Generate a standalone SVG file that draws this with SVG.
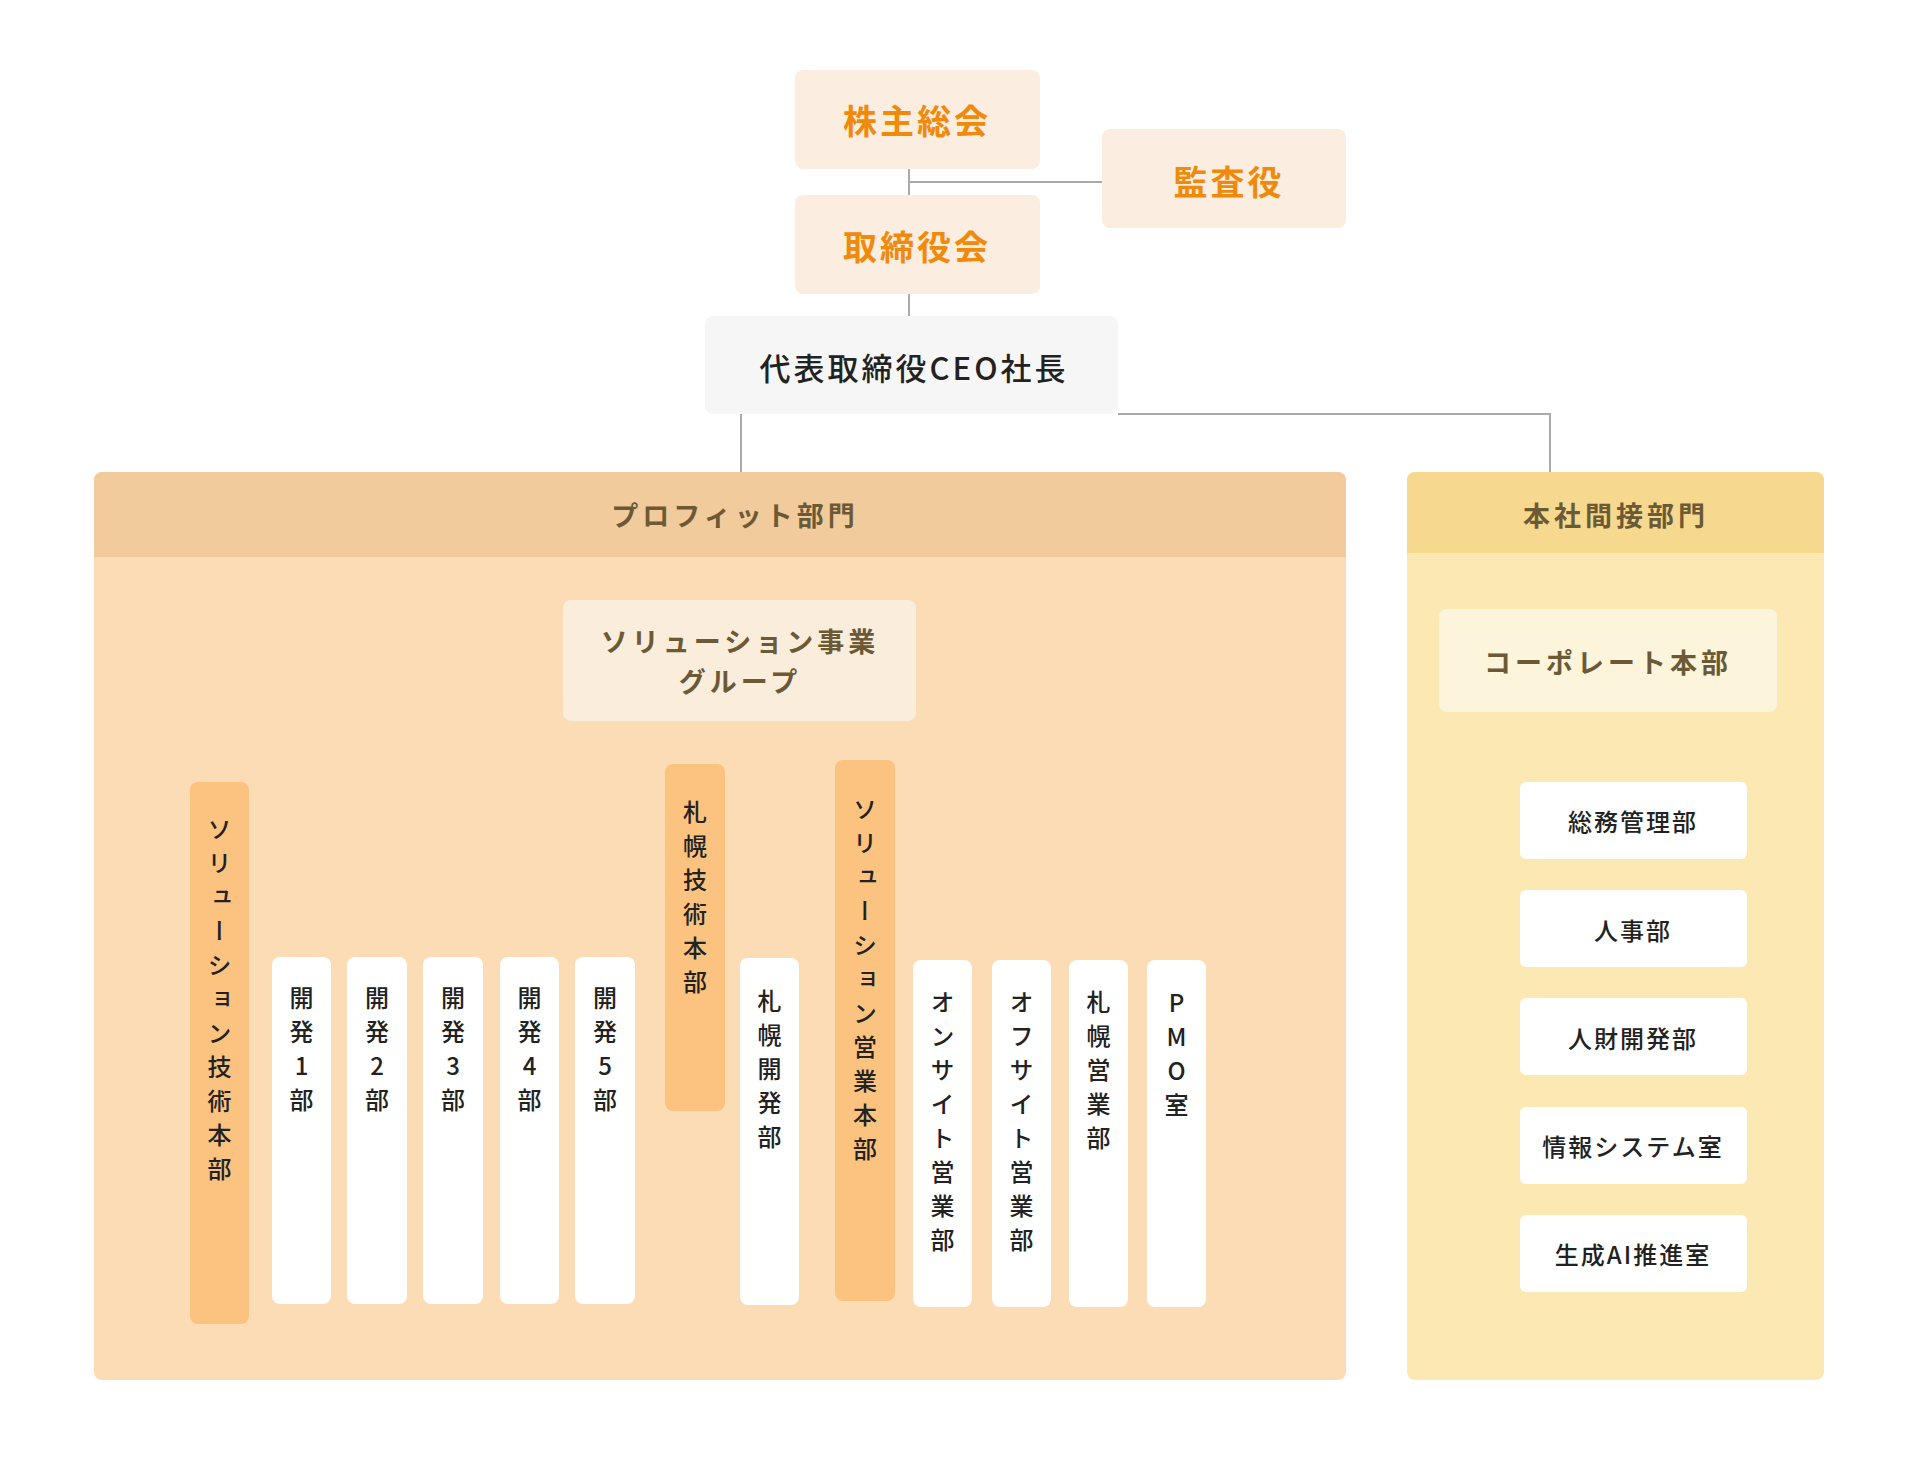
<svg xmlns="http://www.w3.org/2000/svg" width="1920" height="1484" viewBox="0 0 1920 1484">
<style>
text{font-family:"Noto Sans CJK JP","Noto Sans",sans-serif}
.top{fill:#fbeee0}
.ot{fill:#f08a0c;font-size:34px;font-weight:700;text-anchor:middle;dominant-baseline:central;letter-spacing:3px}
.hd{fill:#6b5a35;font-size:27px;font-weight:700;text-anchor:middle;dominant-baseline:central;letter-spacing:4px}
.lk{stroke:#aaa;stroke-width:2;fill:none}
.li{stroke:#85766a;stroke-width:2;fill:none}
.orb{fill:#fcc27f}
.wb{fill:#fff}
.vt{font-size:24px;fill:#222;writing-mode:vertical-rl;text-orientation:upright;letter-spacing:10px;font-weight:500}
.ct{font-size:24px;fill:#222;text-anchor:middle;dominant-baseline:central;font-weight:500;letter-spacing:2px}
</style>
<rect width="1920" height="1484" fill="#fff"/>
<g id="connectors">
<path class="lk" d="M909 169V195M909 182H1102M909 294V316M741 414V472M1118 414H1550V472"/>
<path class="li" d="M695 721V742M215 766V742H861V760M695 742V764"/>
<path class="li" d="M249 890H601M298 890V957M373 890V957M447 890V957M524 890V957M601 890V957"/>
<path class="li" d="M725 890H773V958"/>
<path class="li" d="M895 890H1177V960M943 890V960M1020 890V960M1098 890V960"/>
<path class="li" d="M1472 711V1253M1472 820H1520M1472 929H1520M1472 1037H1520M1472 1145H1520M1472 1253H1520"/>
</g>
<g id="n-kabunushi"><rect class="top" x="795" y="70" width="245" height="99" rx="8"/><text class="ot" x="917" y="119">株主総会</text></g>
<g id="n-kansayaku"><rect class="top" x="1102" y="129" width="244" height="99" rx="8"/><text class="ot" x="1229" y="180">監査役</text></g>
<g id="n-torishimariyakukai"><rect class="top" x="795" y="195" width="245" height="99" rx="8"/><text class="ot" x="917" y="245">取締役会</text></g>
<g id="n-ceo"><rect fill="#f6f6f6" x="705" y="316" width="413" height="98" rx="8"/><text x="914" y="366" font-size="31" fill="#222" text-anchor="middle" dominant-baseline="central" letter-spacing="3" font-weight="500" style="font-family:'Noto Sans CJK JP',sans-serif">代表取締役CEO社長</text></g>
<g id="profit">
<rect x="94" y="472" width="1252" height="908" rx="8" fill="#fbdcb5"/>
<path d="M94 557V480a8 8 0 0 1 8-8H1338a8 8 0 0 1 8 8V557Z" fill="#f2cb9c"/>
<text class="hd" x="735" y="514">プロフィット部門</text>
</g>
<g id="honsha">
<rect x="1407" y="472" width="417" height="908" rx="8" fill="#fbe8b3"/>
<path d="M1407 553V480a8 8 0 0 1 8-8H1816a8 8 0 0 1 8 8V553Z" fill="#f6d88f"/>
<text class="hd" x="1616" y="514">本社間接部門</text>
</g>
<g id="n-solgroup"><rect x="563" y="600" width="353" height="121" rx="8" fill="#fbeddc"/><text class="hd" x="740" y="640">ソリューション事業</text><text class="hd" x="740" y="680">グループ</text></g>
<g id="n-soltech"><rect class="orb" x="190" y="782" width="59" height="542" rx="8"/><text class="vt" x="219.5" y="817">ソリューション技術本部</text></g>
<g id="n-dev1"><rect class="wb" x="272" y="957" width="59" height="347" rx="8"/><text class="vt" x="301.5" y="986">開発1部</text></g>
<g id="n-dev2"><rect class="wb" x="347" y="957" width="60" height="347" rx="8"/><text class="vt" x="377" y="986">開発2部</text></g>
<g id="n-dev3"><rect class="wb" x="423" y="957" width="60" height="347" rx="8"/><text class="vt" x="453" y="986">開発3部</text></g>
<g id="n-dev4"><rect class="wb" x="500" y="957" width="59" height="347" rx="8"/><text class="vt" x="529.5" y="986">開発4部</text></g>
<g id="n-dev5"><rect class="wb" x="575" y="957" width="60" height="347" rx="8"/><text class="vt" x="605" y="986">開発5部</text></g>
<g id="n-sapporotech"><rect class="orb" x="665" y="764" width="60" height="347" rx="8"/><text class="vt" x="695" y="800">札幌技術本部</text></g>
<g id="n-sapporodev"><rect class="wb" x="740" y="958" width="59" height="347" rx="8"/><text class="vt" x="769.5" y="989">札幌開発部</text></g>
<g id="n-solsales"><rect class="orb" x="835" y="760" width="60" height="541" rx="8"/><text class="vt" x="865" y="797">ソリューション営業本部</text></g>
<g id="n-onsite"><rect class="wb" x="913" y="960" width="59" height="347" rx="8"/><text class="vt" x="942.5" y="990">オンサイト営業部</text></g>
<g id="n-offsite"><rect class="wb" x="992" y="960" width="59" height="347" rx="8"/><text class="vt" x="1021.5" y="990">オフサイト営業部</text></g>
<g id="n-sapporosales"><rect class="wb" x="1069" y="960" width="59" height="347" rx="8"/><text class="vt" x="1098.5" y="990">札幌営業部</text></g>
<g id="n-pmo"><rect class="wb" x="1147" y="960" width="59" height="347" rx="8"/><text class="vt" x="1176.5" y="991">PMO室</text></g>
<g id="n-corporate"><rect fill="#fdf4dc" x="1439" y="609" width="338" height="103" rx="8"/><text class="hd" x="1608" y="661">コーポレート本部</text></g>
<g id="n-soumu"><rect class="wb" x="1520" y="782" width="227" height="77" rx="6"/><text class="ct" x="1633" y="820">総務管理部</text></g>
<g id="n-jinji"><rect class="wb" x="1520" y="890" width="227" height="77" rx="6"/><text class="ct" x="1633" y="929">人事部</text></g>
<g id="n-jinzai"><rect class="wb" x="1520" y="998" width="227" height="77" rx="6"/><text class="ct" x="1633" y="1037">人財開発部</text></g>
<g id="n-joho"><rect class="wb" x="1520" y="1107" width="227" height="77" rx="6"/><text class="ct" x="1633" y="1145">情報システム室</text></g>
<g id="n-ai"><rect class="wb" x="1520" y="1215" width="227" height="77" rx="6"/><text class="ct" x="1633" y="1253">生成AI推進室</text></g>
</svg>
